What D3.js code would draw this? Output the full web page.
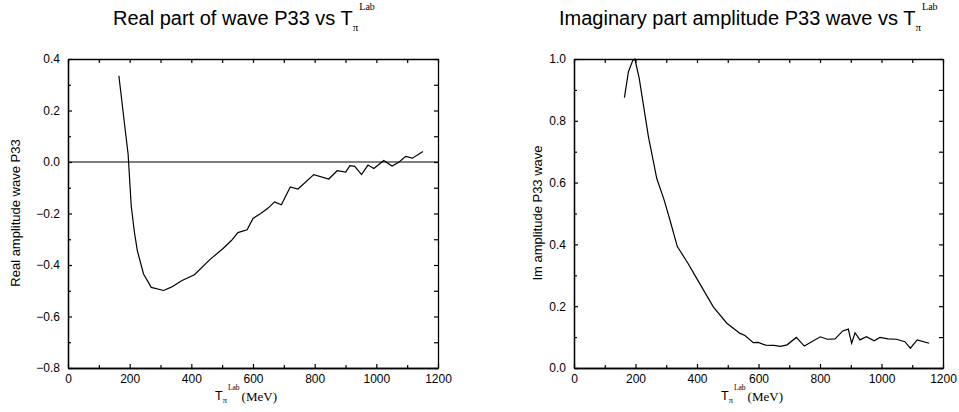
<!DOCTYPE html>
<html><head><meta charset="utf-8">
<script src="https://cdn.jsdelivr.net/npm/d3@7"></script>
<style>
body{margin:0;background:#fff;}
svg{display:block;}
text{fill:#000;}
</style></head>
<body>
<svg id="c" width="959" height="412"></svg>
<script>
// ---- data ----
const realT = [165,185,195,205,215,225,245,270,310,335,370,410,460,503,530,551,581,600,625,649,670,692,721,746,797,846,873,901,914,930,952,973,992,1024,1051,1074,1095,1117,1151];
const realV = [0.335,0.13,0.03,-0.17,-0.27,-0.345,-0.435,-0.487,-0.499,-0.486,-0.46,-0.438,-0.379,-0.336,-0.305,-0.274,-0.263,-0.219,-0.2,-0.179,-0.155,-0.166,-0.097,-0.105,-0.049,-0.066,-0.034,-0.039,-0.014,-0.017,-0.049,-0.012,-0.025,0.006,-0.016,0.0,0.022,0.015,0.041];
const imT = [164,177,191,198,212,242,269,293,312,336,370,399,453,497,540,556,583,599,623,650,671,693,723,749,801,824,849,874,892,903,914,930,951,976,995,1021,1049,1076,1094,1116,1155];
const imV = [0.875,0.959,0.995,1.0,0.938,0.749,0.614,0.544,0.479,0.393,0.34,0.29,0.198,0.145,0.112,0.105,0.082,0.083,0.074,0.073,0.07,0.075,0.099,0.071,0.101,0.093,0.094,0.12,0.126,0.08,0.114,0.091,0.101,0.088,0.099,0.094,0.093,0.085,0.064,0.091,0.08];
const xTicks = [0,200,400,600,800,1000,1200];
const xMinor = [100,300,500,700,900,1100];
const realTicks = [-0.8,-0.6,-0.4,-0.2,0.0,0.2,0.4];
const realMinor = [-0.7,-0.5,-0.3,-0.1,0.1,0.3];
const imTicks = [0.0,0.2,0.4,0.6,0.8,1.0];
const imMinor = [0.1,0.3,0.5,0.7,0.9];
const titles = ["Real part of wave P33 vs T", "Imaginary part amplitude P33 wave vs T"];
const yLabels = ["Real amplitude wave P33", "Im amplitude P33 wave"];

const svg = d3.select("#c");
const SANS = "'Liberation Sans', Arial, Helvetica, sans-serif";
const SERIF = "'Liberation Serif', 'Times New Roman', serif";
const fmt = d => (d < 0 ? "\u2212" : "") + Math.abs(d).toFixed(1);

function panel(o) {
  const x = d3.scaleLinear().domain([0,1200]).range([o.x0, o.x1]);
  const y = d3.scaleLinear().domain(o.yDom).range([368, 59]);
  const g = svg.append("g");
  const T = 4, t = 3;
  // bottom
  g.append("g").attr("transform", `translate(0,${y.range()[0]})`)
    .call(d3.axisBottom(x).tickValues(xTicks).tickFormat(d3.format("d")).tickSizeInner(-T).tickSizeOuter(0).tickPadding(6));
  g.append("g").attr("transform", `translate(0,${y.range()[0]})`)
    .call(d3.axisBottom(x).tickValues(xMinor).tickFormat("").tickSizeInner(-t).tickSizeOuter(0));
  // top
  g.append("g").attr("transform", `translate(0,${y.range()[1]})`)
    .call(d3.axisTop(x).tickValues(xTicks.concat(xMinor)).tickFormat("").tickSizeInner(-T).tickSizeOuter(0));
  // left
  g.append("g").attr("transform", `translate(${o.x0},0)`)
    .call(d3.axisLeft(y).tickValues(o.ticks).tickFormat(fmt).tickSizeInner(-T).tickSizeOuter(0).tickPadding(8));
  g.append("g").attr("transform", `translate(${o.x0},0)`)
    .call(d3.axisLeft(y).tickValues(o.minor).tickFormat("").tickSizeInner(-t).tickSizeOuter(0));
  // right
  g.append("g").attr("transform", `translate(${o.x1},0)`)
    .call(d3.axisRight(y).tickValues(o.ticks.concat(o.minor)).tickFormat("").tickSizeInner(-T).tickSizeOuter(0));
  g.selectAll(".domain").attr("stroke", "#000").attr("stroke-width", 1.3);
  g.selectAll(".tick line").attr("stroke", "#000").attr("stroke-width", 1.2);
  g.selectAll(".tick text").attr("font-family", SANS).attr("font-size", 12).attr("fill", "#000");

  if (o.zero) {
    g.append("line").attr("x1", x(0)).attr("x2", x(1200)).attr("y1", y(0)).attr("y2", y(0))
      .attr("stroke", "#000").attr("stroke-width", 1.2);
  }
  const data = o.xs.map((d, i) => [d, o.ys[i]]);
  g.append("path").datum(data)
    .attr("d", d3.line().x(d => x(d[0])).y(d => y(d[1])))
    .attr("fill", "none").attr("stroke", "#000").attr("stroke-width", 1.2);

  // title
  const tt = g.append("text").attr("x", o.titleX).attr("y", 25)
    .attr("font-family", SANS).attr("font-size", 20);
  tt.append("tspan").text(o.title);
  tt.append("tspan").attr("font-family", SERIF).attr("font-size", 11).attr("dy", 6).attr("dx", 0).text("\u03c0");
  tt.append("tspan").attr("font-family", SERIF).attr("font-size", 10).attr("dy", -21).attr("dx", 1).text("Lab");

  // x label
  const xl = g.append("text").attr("x", o.x0 + 147).attr("y", 400)
    .attr("font-family", SANS).attr("font-size", 12.5);
  xl.append("tspan").text("T");
  xl.append("tspan").attr("font-family", SERIF).attr("font-size", 8.5).attr("dy", 3).attr("dx", 0).text("\u03c0");
  xl.append("tspan").attr("font-family", SERIF).attr("font-size", 7.5).attr("dy", -13).attr("dx", 1).text("Lab");
  xl.append("tspan").attr("font-family", SERIF).attr("font-size", 13).attr("dy", 11).attr("dx", 2).text("(MeV)");

  // y label
  g.append("text").attr("transform", `translate(${o.yLabX},213) rotate(-90)`)
    .attr("text-anchor", "middle").attr("font-family", SANS).attr("font-size", 13)
    .text(o.ylabel);
}

panel({x0:68, x1:438, yDom:[-0.8,0.4], ticks:realTicks, minor:realMinor, zero:true,
  xs:realT, ys:realV, title:titles[0], titleX:113, ylabel:yLabels[0], yLabX:20});
panel({x0:574, x1:943, yDom:[0,1.0], ticks:imTicks, minor:imMinor, zero:false,
  xs:imT, ys:imV, title:titles[1], titleX:559, ylabel:yLabels[1], yLabX:542});
</script>
</body></html>
